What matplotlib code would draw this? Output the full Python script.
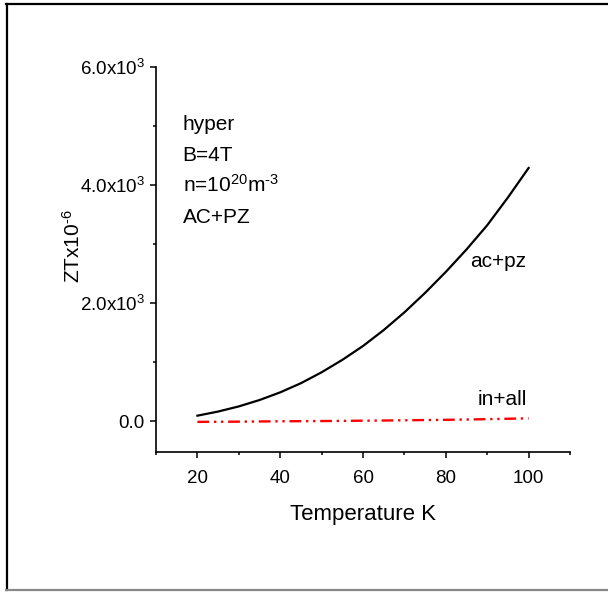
import numpy as np
import matplotlib.pyplot as plt
from matplotlib.lines import Line2D
from matplotlib.ticker import MultipleLocator, FuncFormatter

plt.rcParams['font.family'] = ['Liberation Sans', 'DejaVu Sans']
plt.rcParams['mathtext.fontset'] = 'custom'
plt.rcParams['mathtext.rm'] = 'Liberation Sans'
plt.rcParams['mathtext.it'] = 'Liberation Sans'

# data
temp = [20, 25, 30, 35, 40, 45, 50, 55, 60, 65, 70, 75, 80, 85, 90, 95, 100]
zt_ac_pz = [95, 165, 252, 360, 490, 645, 830, 1040, 1275, 1545, 1845,
            2175, 2530, 2910, 3320, 3790, 4290]
zt_in_all = [-10, -8, -6, -3, 0, 2, 4, 7, 10, 13, 17, 21, 25, 30, 36, 43, 50]

fig = plt.figure(figsize=(6.08, 5.92), dpi=100)
ax = fig.add_axes([0.2566, 0.2365, 0.6809, 0.6503])

ax.plot(temp, zt_ac_pz, color='black', linewidth=1.6)
ax.plot(temp, zt_in_all, color='red', linewidth=1.7,
        linestyle=(0, (5, 2, 1, 2, 1, 2)))

ax.set_xlim(10, 110)
ax.set_ylim(-520, 6000)

ax.spines['top'].set_visible(False)
ax.spines['right'].set_visible(False)
for s in ['left', 'bottom']:
    ax.spines[s].set_linewidth(1.2)

ax.xaxis.set_major_locator(MultipleLocator(20))
ax.xaxis.set_minor_locator(MultipleLocator(10))
ax.yaxis.set_major_locator(MultipleLocator(2000))
ax.yaxis.set_minor_locator(MultipleLocator(1000))


def yfmt(v, pos):
    if abs(v) < 1e-9:
        return '0.0'
    return '%.1fx10$^{3}$' % (v / 1000)


ax.yaxis.set_major_formatter(FuncFormatter(yfmt))
ax.tick_params(which='major', direction='out', length=4, width=1.1,
               labelsize=13.5, pad=4)
ax.tick_params(which='minor', direction='out', length=2.5, width=1.1)
ax.tick_params(axis='x', pad=9)

ax.set_xlabel('Temperature K', fontsize=16, labelpad=12)
fig.text(73 / 608, 1 - 246 / 592, 'ZTx10$^{\u20106}$', fontsize=15,
         rotation=90, ha='center', va='center')

# annotation block
ax.text(16.4, 4930, 'hyper', fontsize=15, va='baseline')
ax.text(16.4, 4412, 'B=4T', fontsize=15, va='baseline')
ax.text(16.4, 3880, 'n=10$^{20}$m$^{\u20103}$', fontsize=15, va='baseline')
ax.text(16.4, 3360, 'AC+PZ', fontsize=15, va='baseline')

ax.text(99.5, 2620, 'ac+pz', fontsize=15, ha='right', va='baseline')
ax.text(99.5, 276, 'in+all', fontsize=15, ha='right', va='baseline')

# outer frame
W, H = 608, 592
fig.add_artist(Line2D([6 / W, 1], [1 - 3.5 / H, 1 - 3.5 / H], color='black', lw=1.6))
fig.add_artist(Line2D([7 / W, 7 / W], [1 - 3.5 / H, 1 - 590 / H], color='black', lw=1.6))
fig.add_artist(Line2D([6 / W, 1], [1 - 590 / H, 1 - 590 / H], color='#888888', lw=1.6))

plt.savefig('out.png', dpi=100)
